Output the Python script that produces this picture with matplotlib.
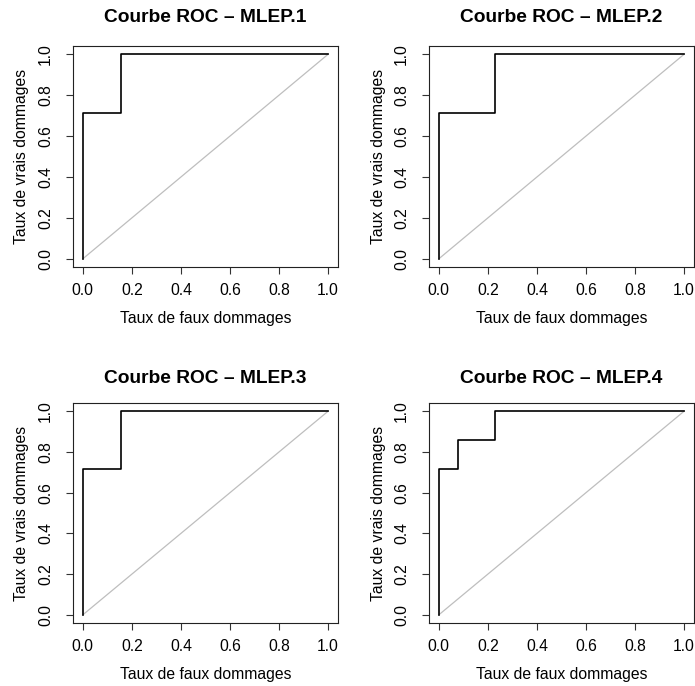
"""
ROC curves for the four MLEP models, laid out 2x2 like the R output
"""

import matplotlib
matplotlib.use("Agg")
import matplotlib.pyplot as plt

plt.rcParams['font.family'] = ['Liberation Sans', 'DejaVu Sans']

models = ['MLEP.1', 'MLEP.2', 'MLEP.3', 'MLEP.4']

# false positive rate / true positive rate
fpr_1 = [0.0, 0.0, 0.154, 0.154, 1.0]
tpr_1 = [0.0, 0.714, 0.714, 1.0, 1.0]
fpr_2 = [0.0, 0.0, 0.231, 0.231, 1.0]
tpr_2 = [0.0, 0.714, 0.714, 1.0, 1.0]
fpr_3 = [0.0, 0.0, 0.154, 0.154, 1.0]
tpr_3 = [0.0, 0.714, 0.714, 1.0, 1.0]
fpr_4 = [0.0, 0.0, 0.077, 0.077, 0.231, 0.231, 1.0]
tpr_4 = [0.0, 0.714, 0.714, 0.857, 0.857, 1.0, 1.0]

fprs = [fpr_1, fpr_2, fpr_3, fpr_4]
tprs = [tpr_1, tpr_2, tpr_3, tpr_4]
ticks = [0.0, 0.2, 0.4, 0.6, 0.8, 1.0]
tick_labels = ['0.0', '0.2', '0.4', '0.6', '0.8', '1.0']

W, H = 695, 686
fig = plt.figure(figsize=(W / 100, H / 100), dpi=100)

# panel boxes in pixels: left, top, width, height
boxes = [(73, 46, 265, 221), (429, 46, 265, 221),
         (73, 403, 265, 220), (429, 403, 265, 220)]

for i, (name, fpr, tpr) in enumerate(zip(models, fprs, tprs)):
    left, top, w, h = boxes[i]
    ax = fig.add_axes([left / W, 1 - (top + h) / H, w / W, h / H])

    ax.plot([0, 1], [0, 1], color='#bebebe', lw=0.9)
    ax.plot(fpr, tpr, color='black', lw=1.2)

    ax.set_xlim(-0.04, 1.04)
    ax.set_ylim(-0.04, 1.04)
    ax.set_xticks(ticks)
    ax.set_xticklabels(tick_labels)
    ax.set_yticks(ticks)
    ax.set_yticklabels(tick_labels, rotation=90, va='center')
    ax.tick_params(direction='out', length=5, width=0.8, labelsize=11.3,
                   color='#333333')
    ax.tick_params(axis='x', pad=6.5)
    ax.tick_params(axis='y', pad=9.4)
    for sp in ax.spines.values():
        sp.set_linewidth(0.8)
        sp.set_color('#222222')

    ax.set_xlabel('Taux de faux dommages', fontsize=11.3, va='center')
    ax.xaxis.set_label_coords(0.5, -51 / h)
    ax.set_ylabel('Taux de vrais dommages', fontsize=11.3, va='center')
    ax.yaxis.set_label_coords(-51 / w, 0.5)

    title_off = 28 if i < 2 else 25
    ax.set_title('Courbe ROC \u2013 ' + name, fontsize=13.8, fontweight='bold',
                 y=1 + title_off / h, va='center', pad=0)

fig.savefig('out.png', dpi=100)
